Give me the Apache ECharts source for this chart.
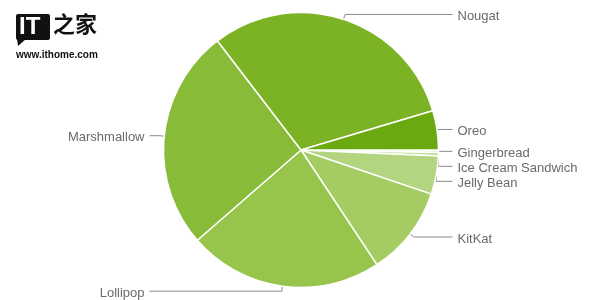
<!DOCTYPE html>
<html>
<head>
<meta charset="utf-8">
<script src="https://cdn.jsdelivr.net/npm/echarts@6/dist/echarts.min.js"></script>
<style>html,body{margin:0;padding:0;background:#fff}#c{width:600px;height:300px}</style>
</head>
<body>
<div id="c"></div>
<script>
const categories = ['Gingerbread', 'Ice Cream Sandwich', 'Jelly Bean', 'KitKat', 'Lollipop', 'Marshmallow', 'Nougat', 'Oreo'];
const shares = [0.3, 0.4, 4.5, 10.5, 22.9, 26.0, 30.8, 4.6];
const sliceColors = ['#d3e8b5', '#c4df9c', '#b3d57f', '#a5cc63', '#97c44b', '#88bb37', '#7cb324', '#6aa90f'];

const CX = 301, CY = 150, R = 137.5;
const LINE_REACH = 14;   // label line end distance beyond the pie edge
const TEXT_GAP = 5;

const chart = echarts.init(document.getElementById('c'), null, {renderer: 'canvas'});
chart.setOption({
  backgroundColor: '#fff',
  animation: false,
  graphic: [
    {type: 'rect', shape: {x: 16, y: 14, width: 34, height: 26, r: 2}, style: {fill: '#111'}},
    {type: 'polygon', shape: {points: [[17, 39], [18, 46], [26, 39]]}, style: {fill: '#111'}},
    {type: 'text', left: 19, top: 15, style: {text: 'IT', fill: '#fff', font: 'bold 24px "Liberation Sans", Arial, sans-serif'}},
    {type: 'text', left: 53, top: 13, style: {text: '之家', fill: '#111', font: 'bold 22px "Noto Sans CJK SC", sans-serif'}},
    {type: 'text', left: 16, top: 50, style: {text: 'www.ithome.com', fill: '#111', font: 'bold 10px "Liberation Sans", Arial, sans-serif'}}
  ],
  series: [{
    type: 'pie',
    center: [CX, CY],
    radius: R,
    startAngle: 0,
    clockwise: true,
    avoidLabelOverlap: true,
    itemStyle: {borderColor: '#fff', borderWidth: 1.5},
    label: {
      show: true,
      position: 'outside',
      color: '#6a6a6a',
      fontSize: 13,
      fontFamily: '"Liberation Sans", Arial, sans-serif',
      distanceToLabelLine: TEXT_GAP
    },
    labelLine: {show: true, length: 5, length2: 9, lineStyle: {color: '#8c8c8c', width: 1}},
    labelLayout: function (p) {
      const pts = p.labelLinePoints;
      if (!pts) return {};
      const right = pts[1][0] >= CX;
      const endX = right ? CX + R + LINE_REACH : CX - R - LINE_REACH;
      const newPts = [pts[0].slice(), pts[1].slice(), [endX, pts[2][1]]];
      return {
        x: right ? endX + TEXT_GAP : endX - TEXT_GAP,
        y: pts[2][1] + 2,
        align: right ? 'left' : 'right',
        verticalAlign: 'middle',
        labelLinePoints: newPts
      };
    },
    emphasis: {disabled: true},
    data: categories.map((n, i) => ({name: n, value: shares[i], itemStyle: {color: sliceColors[i]}}))
  }]
});
</script>
</body>
</html>
